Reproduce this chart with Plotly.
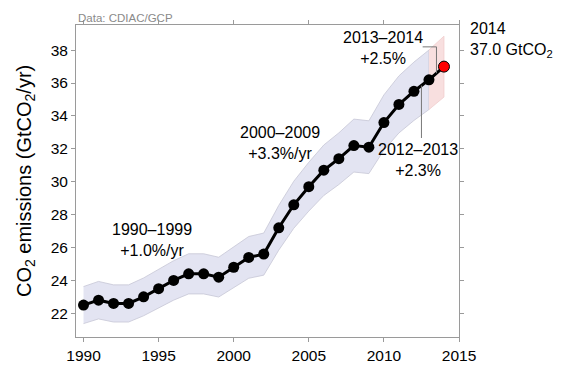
import plotly.graph_objects as go

years = list(range(1990, 2015))
emissions = [22.5, 22.8, 22.6, 22.6, 23.0, 23.5, 24.0, 24.4, 24.4, 24.2,
             24.8, 25.4, 25.6, 27.2, 28.6, 29.7, 30.7, 31.4, 32.2, 32.1,
             33.6, 34.7, 35.5, 36.2, 37.0]
unc_frac = 0.05  # ±5% uncertainty band
x_ticks = [1990, 1995, 2000, 2005, 2010, 2015]
y_ticks = [22, 24, 26, 28, 30, 32, 34, 36, 38]

FONT = "Liberation Sans, Arial, Helvetica, sans-serif"

fig = go.Figure()

# blue band 1990-2013
bx = years[:-1]
by = emissions[:-1]
up = [v * (1 + unc_frac) for v in by]
lo = [v * (1 - unc_frac) for v in by]
fig.add_trace(go.Scatter(x=bx + bx[::-1], y=up + lo[::-1], fill="toself",
                         fillcolor="rgb(227,228,242)",
                         line=dict(color="rgb(198,198,214)", width=0.8),
                         hoverinfo="skip", showlegend=False, mode="lines"))
# pink band 2013-2014
px_ = years[-2:]
py_ = emissions[-2:]
up2 = [v * (1 + unc_frac) for v in py_]
lo2 = [v * (1 - unc_frac) for v in py_]
fig.add_trace(go.Scatter(x=px_ + px_[::-1], y=up2 + lo2[::-1], fill="toself",
                         fillcolor="rgb(248,223,223)",
                         line=dict(color="rgb(240,205,205)", width=0.8),
                         hoverinfo="skip", showlegend=False, mode="lines"))

fig.add_trace(go.Scatter(x=years, y=emissions, mode="lines",
                         line=dict(color="black", width=3),
                         showlegend=False, hoverinfo="skip"))
fig.add_trace(go.Scatter(x=years[:-1], y=emissions[:-1], mode="markers",
                         marker=dict(color="black", size=11),
                         showlegend=False))
fig.add_trace(go.Scatter(x=years[-1:], y=emissions[-1:], mode="markers",
                         marker=dict(color="#ff0000", size=11,
                                     line=dict(color="black", width=1)),
                         showlegend=False))

ann_font = dict(family=FONT, size=16, color="black")
fig.add_annotation(x=1994.56, y=26.47, text="1990–1999<br>+1.0%/yr",
                   showarrow=False, font=ann_font, align="center")
fig.add_annotation(x=2003.08, y=32.33, text="2000–2009<br>+3.3%/yr",
                   showarrow=False, font=ann_font, align="center")
fig.add_annotation(x=2009.94, y=38.15, text="2013–2014<br>+2.5%",
                   showarrow=False, font=ann_font, align="center")
fig.add_annotation(x=2012.27, y=31.35, text="2012–2013<br>+2.3%",
                   showarrow=False, font=ann_font, align="center")
fig.add_annotation(xref="paper", yref="y", x=1.0235, y=38.62,
                   text="2014<br>37.0 GtCO<sub>2</sub>", showarrow=False,
                   font=ann_font, align="left", xanchor="left")
fig.add_annotation(xref="paper", yref="paper", x=0.0, y=1.0, yshift=-1,
                   text="Data: CDIAC/GCP", showarrow=False,
                   font=dict(family=FONT, size=11.5, color="#8a8a8a"),
                   xanchor="left", yanchor="bottom")
fig.add_annotation(xref="paper", yref="paper", x=-0.133, y=0.5,
                   text="CO<sub>2</sub> emissions (GtCO<sub>2</sub>/yr)",
                   textangle=-90, showarrow=False,
                   font=dict(family=FONT, size=20, color="black"),
                   xanchor="center", yanchor="middle")

# leader lines
mid_1314 = (emissions[-2] + emissions[-1]) / 2
mid_1213 = (emissions[-3] + emissions[-2]) / 2
lc = dict(color="#777777", width=1)
fig.add_shape(type="line", x0=2012.58, x1=2013.5, y0=38.2, y1=38.2, line=lc)
fig.add_shape(type="line", x0=2013.5, x1=2013.5, y0=38.2, y1=mid_1314, line=lc)
fig.add_shape(type="line", x0=2012.5, x1=2012.5, y0=32.66, y1=mid_1213, line=lc)

axis_common = dict(showgrid=False, zeroline=False, showline=True,
                   linecolor="#9a9a9a", linewidth=1, mirror="ticks",
                   ticks="outside", ticklen=4, tickcolor="#9a9a9a",
                   tickfont=dict(family=FONT, size=15.5, color="black"))
fig.update_xaxes(range=[1989.5, 2015], tickvals=x_ticks, **axis_common)
fig.update_yaxes(range=[20.56, 39.53], tickvals=y_ticks, **axis_common)

# page body has an 8px default margin: size/margins compensate for it
fig.update_layout(width=554, height=368,
                  margin=dict(l=68, r=103, t=15, b=35),
                  plot_bgcolor="white", paper_bgcolor="white",
                  font=dict(family=FONT))

fig.write_html("out.html")
